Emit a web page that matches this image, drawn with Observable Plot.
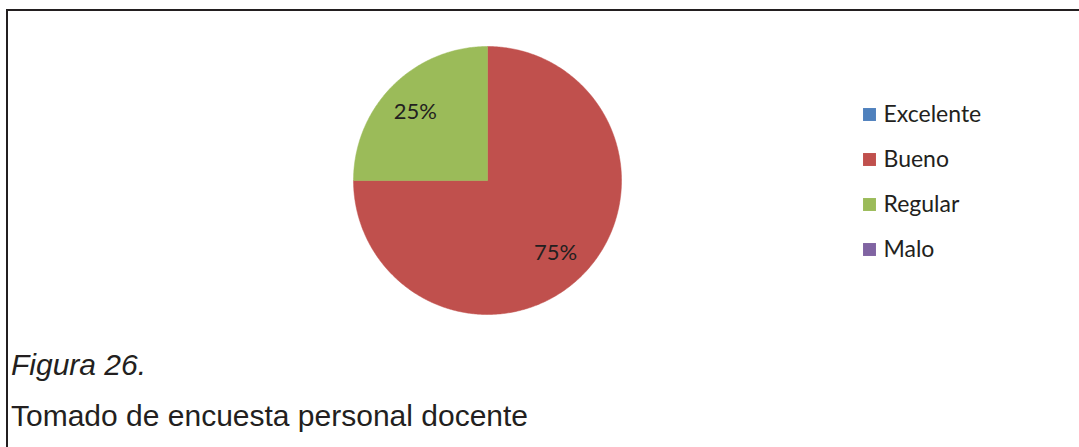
<!DOCTYPE html>
<html>
<head>
<meta charset="utf-8">
<script src="https://cdn.jsdelivr.net/npm/d3@7"></script>
<script src="https://cdn.jsdelivr.net/npm/@observablehq/plot@0.6"></script>
<style>
  html, body { margin: 0; padding: 0; background: #fff; }
  #page { position: relative; width: 1079px; height: 447px; overflow: hidden; background: #fff; }
  #frame { position: absolute; left: 6px; top: 9px; width: 1073px; height: 438px;
           border-top: 2px solid #231f20; border-left: 2px solid #231f20; box-sizing: border-box; }
  #pie { position: absolute; left: 0; top: 0; }
  #legend { position: absolute; left: 850px; top: 0; }
  .cap { position: absolute; left: 11px; font-family: "Liberation Sans", Arial, sans-serif;
         font-size: 30px; line-height: 30px; color: #231f20; white-space: nowrap; }
</style>
</head>
<body>
<div id="page">
  <div id="frame"></div>
  <div id="pie"></div>
  <div id="legend"></div>
  <div class="cap" style="top:350px; font-style: italic;">Figura 26.</div>
  <div class="cap" style="top:401px;">Tomado de encuesta personal docente</div>
</div>
<script>
const categories = ["Excelente", "Bueno", "Regular", "Malo"];
const values = [0, 75, 25, 0];
const colors = ["#4f81bd", "#c0504d", "#9bbb59", "#8064a2"];
const labels = ["0%", "75%", "25%", "0%"];

const data = categories.map((c, i) => ({category: c, value: values[i], label: labels[i]}));

// pie geometry (angles clockwise from 12 o'clock)
const arcs = d3.pie().sort(null).value(d => d.value)(data);
const slicePts = [];
const labelPts = [];
for (const a of arcs) {
  if (a.data.value <= 0) continue;
  const n = Math.max(2, Math.ceil((a.endAngle - a.startAngle) / 0.01));
  slicePts.push({category: a.data.category, x: 0, y: 0});
  for (let k = 0; k <= n; k++) {
    const t = a.startAngle + (a.endAngle - a.startAngle) * k / n;
    slicePts.push({category: a.data.category, x: Math.sin(t), y: Math.cos(t)});
  }
  slicePts.push({category: a.data.category, x: 0, y: 0});
  const m = (a.startAngle + a.endAngle) / 2;
  labelPts.push({label: a.data.label, x: 0.74 * Math.sin(m), y: 0.74 * Math.cos(m)});
}

const cx = 487, cy = 180, R = 134;
const font = "Lato, 'Open Sans', sans-serif";
const pie = Plot.plot({
  width: 1079,
  height: 330,
  margin: 0,
  x: {domain: [-1, 1], range: [cx - R, cx + R], axis: null},
  y: {domain: [-1, 1], range: [cy + R, cy - R], axis: null},
  color: {domain: categories, range: colors},
  style: {background: "transparent"},
  marks: [
    Plot.line(slicePts, {x: "x", y: "y", z: "category", fill: "category", stroke: "category", strokeWidth: 0.5, curve: "linear"}),
    Plot.text(labelPts, {x: "x", y: "y", text: "label", fontSize: 22, fontFamily: font, fill: "#231f20", dx: -2, dy: 2})
  ]
});
document.getElementById("pie").appendChild(pie);

const legend = Plot.plot({
  width: 220,
  height: 300,
  margin: 0,
  x: {domain: [0, 1], range: [0, 220], axis: null},
  y: {type: "point", domain: categories, range: [113, 249], padding: 0, axis: null},
  color: {domain: categories, range: colors},
  style: {background: "transparent"},
  marks: [
    Plot.dot(categories, {x: () => 0, y: d => d, dx: 19, symbol: "square", r: 7.3, fill: d => d, stroke: null}),
    Plot.text(categories, {x: () => 0, y: d => d, dx: 33, text: d => d, textAnchor: "start", fontSize: 23, fontFamily: font, fill: "#231f20"})
  ]
});
document.getElementById("legend").appendChild(legend);
</script>
</body>
</html>
